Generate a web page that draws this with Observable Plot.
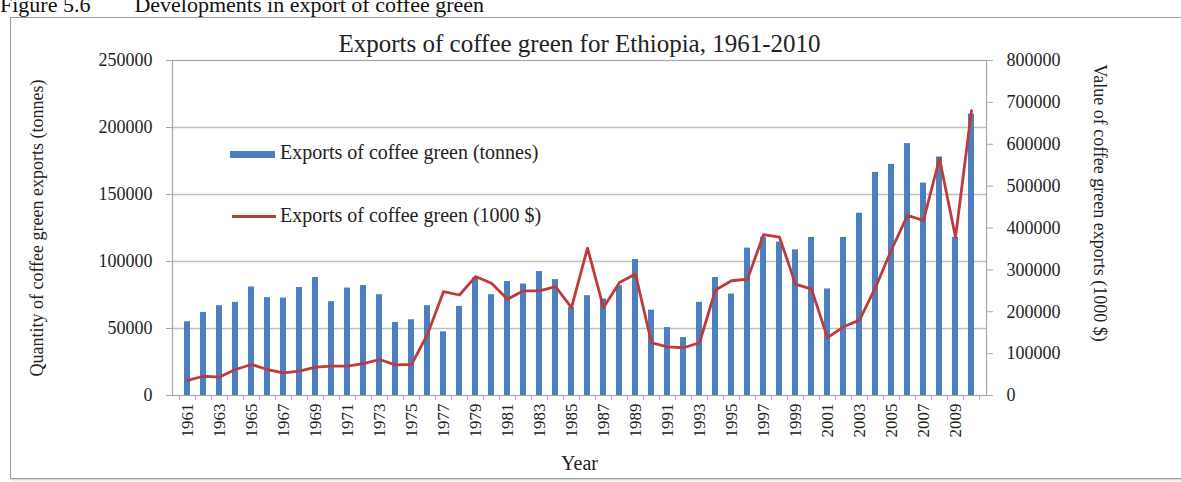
<!DOCTYPE html>
<html>
<head>
<meta charset="utf-8">
<script src="https://cdn.jsdelivr.net/npm/d3@7"></script>
<script src="https://cdn.jsdelivr.net/npm/@observablehq/plot@0.6"></script>
<style>
  body { margin: 0; background: #fff; font-family: "Liberation Serif", "Times New Roman", serif; }
  #wrap { position: relative; width: 1181px; height: 482px; overflow: hidden; background: #fff; }
  #caption { position: absolute; left: 0; top: -8px; font-size: 22px; white-space: pre; color: #111; }
  #frame { position: absolute; left: 10px; top: 17px; width: 1200px; height: 460px; border: 1px solid #9c9c9c; box-shadow: 1px 1px 2px #c4c4c4; }
  #chart { position: absolute; left: 0; top: 0; }
  .leg { position: absolute; font-size: 20px; color: #222; white-space: pre; }
  .sw-bar { position: absolute; background: #4c7fbe; }
  .sw-line { position: absolute; background: #be3b3b; }
</style>
</head>
<body>
<div id="wrap">
  <div id="caption">Figure 5.6        Developments in export of coffee green</div>
  <div id="frame"></div>
  <div id="chart"></div>
  <div class="sw-bar" style="left:230px;top:151px;width:45px;height:7px"></div>
  <div class="leg" style="left:280px;top:141px">Exports of coffee green (tonnes)</div>
  <div class="sw-line" style="left:232px;top:215px;width:44px;height:3px"></div>
  <div class="leg" style="left:280px;top:204px">Exports of coffee green (1000 $)</div>
</div>
<script>
// Ethiopia, exports of coffee green
const years = [1961, 1962, 1963, 1964, 1965, 1966, 1967, 1968, 1969, 1970,
               1971, 1972, 1973, 1974, 1975, 1976, 1977, 1978, 1979, 1980,
               1981, 1982, 1983, 1984, 1985, 1986, 1987, 1988, 1989, 1990,
               1991, 1992, 1993, 1994, 1995, 1996, 1997, 1998, 1999, 2000,
               2001, 2002, 2003, 2004, 2005, 2006, 2007, 2008, 2009, 2010];

// quantity, tonnes (left axis)
const tonnes = [55000, 62000, 67000, 69500, 81000, 73000, 72700, 80600, 88000, 70000,
                80200, 82000, 75200, 54500, 56500, 67000, 47500, 66500, 87700, 75200,
                85000, 83200, 92500, 86500, 65700, 74500, 72000, 82000, 101500, 63700,
                50700, 43200, 69500, 88000, 75700, 110000, 118000, 114500, 108700, 118000,
                79500, 118000, 136000, 166500, 172500, 188000, 158500, 178000, 118000, 210000];

// value, 1000 $ (right axis)
const valueUsd = [36000, 46000, 44000, 62000, 74000, 62000, 54000, 58000, 68000, 70000,
                  70000, 76000, 86000, 73000, 74000, 146000, 248000, 240000, 284000, 268000,
                  230000, 250000, 250000, 260000, 210000, 352000, 210000, 270000, 290000, 126000,
                  116000, 114000, 126000, 252000, 274000, 278000, 384000, 378000, 266000, 254000,
                  138000, 164000, 180000, 258000, 348000, 430000, 418000, 566000, 378000, 680000];

const leftTicks = [0, 50000, 100000, 150000, 200000, 250000];
const rightTicks = [0, 100000, 200000, 300000, 400000, 500000, 600000, 700000, 800000];
const labeledYears = years.filter(y => y % 2 === 1);

const W = 1181, H = 482;
const mL = 172, mR = 195, mT = 60, mB = 87;
const step = (W - mL - mR) / years.length;
// the right axis spans 0–800000 over the same height as 0–250000 on the left
const ratio = rightTicks[rightTicks.length - 1] / leftTicks[leftTicks.length - 1];

const rows = years.map((year, i) => ({year, tonnes: tonnes[i], usd: valueUsd[i]}));
const fmt = d3.format("d");

const chart = Plot.plot({
  width: W,
  height: H,
  marginLeft: mL,
  marginRight: mR,
  marginTop: mT,
  marginBottom: mB,
  style: {fontFamily: '"Liberation Serif", "Times New Roman", serif', fontSize: "18px", color: "#222", background: "transparent"},
  x: {type: "band", domain: years, paddingInner: 0.6, paddingOuter: 0.3},
  y: {domain: [0, 250000]},
  marks: [
    Plot.ruleY(leftTicks.slice(1, -1), {stroke: "#c0c0c0", strokeWidth: 1.5}),
    Plot.frame({stroke: "#a8a8a8", strokeWidth: 1.2}),
    Plot.ruleX(years, {x: d => d, y1: 0, y2: -3500, dx: -step / 2, stroke: "#a8a8a8"}),
    Plot.ruleX(years.slice(-1), {x: d => d, y1: 0, y2: -3500, dx: step / 2, stroke: "#a8a8a8"}),
    Plot.barY(rows, {x: "year", y: "tonnes", fill: "#4c7fbe"}),
    Plot.line(rows, {x: "year", y: d => d.usd / ratio, stroke: "#be3b3b", strokeWidth: 2.8}),
    Plot.axisY({ticks: leftTicks, tickFormat: fmt, tickSize: 6, tickPadding: 14, label: null, stroke: "#a8a8a8"}),
    Plot.axisY({anchor: "right", ticks: rightTicks.map(v => v / ratio), tickFormat: d => fmt(Math.round(d * ratio)),
                tickSize: 6, tickPadding: 14, label: null, stroke: "#a8a8a8"}),
    Plot.axisX({ticks: labeledYears, tickFormat: d => String(d), tickRotate: -90, tickSize: 0, tickPadding: 8,
                label: null, fontSize: 17}),
    Plot.text(["Exports of coffee green for Ethiopia, 1961-2010"], {frameAnchor: "top", dy: -26, fontSize: 25, fill: "#222"}),
    Plot.text(["Quantity of coffee green exports (tonnes)"], {frameAnchor: "left", dx: -135, rotate: -90, textAnchor: "middle", fontSize: 18, fill: "#222"}),
    Plot.text(["Value of coffee green exports (1000 $)"], {frameAnchor: "right", dx: 113, dy: -25, rotate: 90, textAnchor: "middle", fontSize: 18, fill: "#222"}),
    Plot.text(["Year"], {frameAnchor: "bottom", dy: 74, fontSize: 20, fill: "#222"})
  ]
});
document.getElementById("chart").append(chart);
</script>
</body>
</html>
